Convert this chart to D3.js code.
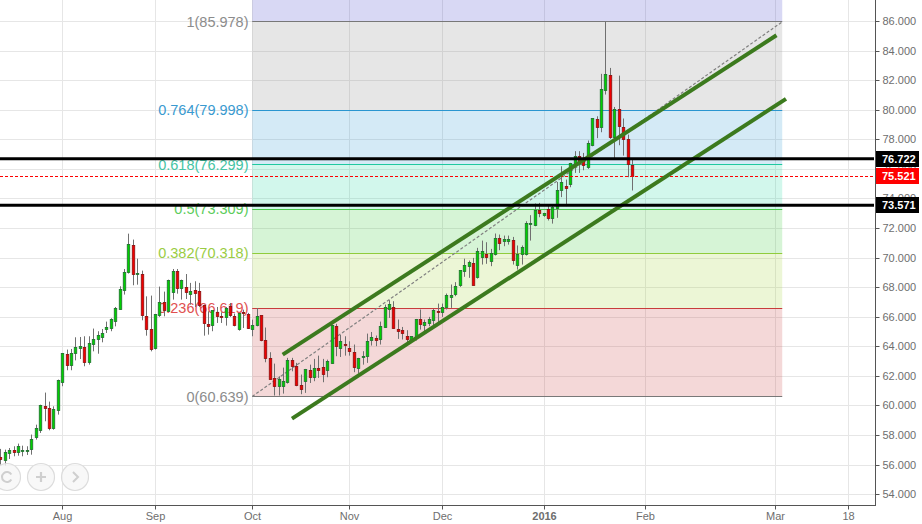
<!DOCTYPE html>
<html>
<head>
<meta charset="utf-8">
<script src="https://cdn.jsdelivr.net/npm/d3@7"></script>
<style>
    body { margin: 0; background: #fff; overflow: hidden; }
    text { font-family: "Liberation Sans", Arial, sans-serif; }
</style>
</head>
<body>
<div id="chart"></div>
<script>
// Daily prices, one entry per bar
const open = [56.48,56.32,56.77,56.97,56.86,56.86,56.86,57.04,57.81,58.35,59.95,59.81,58.44,59.70,61.60,63.47,62.75,63.49,63.90,63.94,62.95,64.14,64.44,64.64,65.18,65.25,65.72,66.53,67.75,68.99,70.84,68.90,68.92,66.08,65.20,63.83,66.06,66.96,66.40,67.62,69.06,67.91,67.98,67.55,67.80,67.71,66.76,65.50,65.38,66.35,66.02,65.93,66.69,66.02,65.16,66.29,66.17,65.18,65.47,66.11,64.42,63.20,61.85,61.31,61.31,61.60,63.06,62.66,61.37,61.64,62.39,61.87,62.50,62.59,62.34,62.88,65.34,63.90,64.13,63.85,63.58,62.50,63.29,63.29,64.37,64.53,64.44,65.32,66.49,66.67,65.16,65.07,64.67,64.40,64.64,65.82,65.39,65.52,65.73,66.38,66.29,66.63,67.35,67.53,68.09,69.11,69.38,69.63,68.66,69.99,70.21,69.72,70.19,71.30,71.14,71.14,71.16,69.45,70.19,70.19,72.22,72.15,73.19,72.83,73.28,72.65,73.33,74.52,74.84,74.93,76.28,76.84,76.50,76.10,77.59,79.35,78.78,81.29,82.32,78.15,80.02,78.80,77.99,76.26];
const high = [57.09,57.04,57.15,57.27,57.45,57.31,57.27,58.06,58.73,60.08,60.90,60.29,59.97,61.78,63.58,63.81,63.85,64.64,64.66,64.71,64.71,65.23,65.05,65.20,65.70,65.93,66.69,68.09,69.26,71.65,71.25,69.96,69.15,67.41,67.46,66.22,68.07,67.73,68.54,69.26,69.26,68.54,68.92,68.32,68.43,68.32,66.85,66.40,66.47,66.69,66.33,66.69,66.96,66.24,66.29,66.51,66.29,65.83,66.62,66.11,65.30,63.63,62.86,62.00,62.59,63.25,63.25,62.91,62.12,62.50,62.79,63.18,63.40,63.18,63.13,65.50,65.55,64.80,64.71,64.37,64.15,63.25,63.70,64.89,65.00,64.76,65.70,66.85,67.15,67.08,65.84,65.34,65.12,64.71,65.88,66.52,65.84,66.02,66.56,66.92,66.92,67.60,68.21,68.37,69.18,69.96,69.83,70.01,70.69,71.18,71.07,70.62,71.66,71.59,71.52,71.52,71.43,70.85,70.85,72.49,72.90,73.69,73.73,73.06,73.62,73.51,75.15,76.21,75.31,76.44,77.23,77.23,77.11,77.95,79.46,79.59,82.46,85.98,82.86,80.22,82.34,79.44,78.35,76.71];
const low = [56.03,55.96,56.41,56.59,56.63,56.59,56.68,56.70,57.72,58.17,58.96,58.35,58.39,59.41,61.33,62.41,62.41,63.08,63.17,62.68,62.79,63.69,63.53,64.30,64.93,65.05,65.38,66.51,67.53,68.95,68.16,68.20,65.79,64.75,63.69,63.81,66.02,66.06,66.38,67.19,67.59,67.19,67.23,66.85,66.69,66.69,64.75,64.82,65.05,65.61,65.61,65.43,66.02,65.38,65.09,65.27,65.20,64.71,65.38,64.37,62.95,61.78,60.70,60.70,60.83,61.51,62.34,61.33,60.79,60.88,61.55,61.67,61.89,61.60,61.94,62.84,63.36,63.31,63.40,63.40,62.28,62.19,62.79,62.91,64.08,64.04,64.15,65.28,65.95,65.21,64.53,64.49,64.22,64.26,64.42,65.16,64.85,65.39,65.43,65.66,66.02,66.52,66.63,67.42,68.05,68.73,68.66,68.16,68.61,69.56,69.61,69.45,70.17,70.53,70.80,70.91,69.56,69.22,69.56,70.17,71.18,72.15,72.76,72.79,72.54,72.33,72.72,74.12,73.51,74.79,75.76,75.76,75.94,76.03,77.56,78.11,78.51,81.06,78.06,76.75,77.63,76.93,75.47,74.57];
const close = [56.36,56.88,56.97,56.86,57.24,56.95,56.95,57.72,58.44,60.02,59.84,58.46,59.75,61.71,63.53,62.75,63.53,63.92,64.01,62.95,64.21,64.48,64.73,64.89,65.29,65.83,66.58,67.86,68.99,70.89,68.88,68.95,66.13,65.18,63.83,66.15,66.96,66.40,68.47,69.06,67.93,68.47,67.62,67.77,67.62,66.74,65.52,65.38,66.42,66.06,65.97,66.56,66.06,65.43,66.22,66.20,65.25,65.47,66.08,64.42,63.22,61.78,61.33,61.78,61.64,63.06,62.68,61.40,61.10,62.43,61.91,62.50,62.34,62.14,62.97,65.43,63.99,64.35,64.04,63.63,62.55,63.18,63.33,64.33,64.60,64.37,65.34,66.67,66.83,65.25,65.05,64.85,64.44,64.67,65.82,65.46,65.61,65.82,66.43,66.33,66.63,67.46,67.46,68.05,69.13,69.49,69.67,68.16,70.42,70.42,69.99,70.28,71.30,70.98,71.25,71.25,69.79,70.21,70.69,72.31,72.31,73.19,72.99,72.99,72.69,73.39,74.57,75.09,74.72,76.37,76.89,76.53,76.21,77.72,79.41,78.78,81.38,82.39,78.11,80.02,78.85,77.97,76.28,75.52];

// Fibonacci retracement levels
const fibRatios = ["1", "0.764", "0.618", "0.5", "0.382", "0.236", "0"];
const fibPrices = [85.978, 79.998, 76.299, 73.309, 70.318, 66.619, 60.639];
const fibStartBar = 56.9;
const fibEndBar = 176.9;

// Hand drawn lines: [bar, price] at each end
const upperChannel = [[63.8, 63.47], [175.6, 85.07]];
const lowerChannel = [[65.9, 59.14], [177.75, 80.77]];
const horizontalLines = [76.722, 73.571];
const lastPrice = 75.521;

// Axis ticks
const yTicks = d3.range(54, 87, 2);
const timeBars = [14, 35, 57, 79, 100, 123, 146, 175.3, 192];
const timeLabels = ["Aug", "Sep", "Oct", "Nov", "Dec", "2016", "Feb", "Mar", "18"];

// Colours for the fib levels, top to bottom
const fibLineColors = ["#787878", "#2a96d0", "#20c8a0", "#4cc84c", "#90cc3c", "#c83c3c", "#787878"];
const fibTextColors = ["#8c8c8c", "#3a9ad0", "#45c4a4", "#5ccc5c", "#9acc44", "#e05050", "#8c8c8c"];
const fibFills = ["#808080", "#2a96d0", "#20d8a0", "#30c830", "#a0d030", "#c83c3c"];
const fibTopFill = "#3c3cc8";

const width = 922;
const height = 524;
const plotRight = 875;
const plotBottom = 505;

const svg = d3.select("#chart")
    .append("svg")
    .attr("width", width)
    .attr("height", height)
    .style("display", "block");

// Bars are placed by index, price axis is linear
const xScale = d3.scaleLinear().domain([0, open.length - 1]).range([0.9, 632.5]);
const yScale = d3.scaleLinear().domain([54, 86]).range([494.6, 21.5]);

const crisp = v => Math.floor(v) + 0.5;

// Grid
const grid = svg.append("g").attr("stroke", "#e6e6e6").attr("stroke-width", 1);
grid.selectAll(".h")
    .data(yTicks)
    .enter().append("line")
    .attr("x1", 0).attr("x2", plotRight)
    .attr("y1", d => crisp(yScale(d))).attr("y2", d => crisp(yScale(d)));
grid.selectAll(".v")
    .data(timeBars)
    .enter().append("line")
    .attr("y1", 0).attr("y2", plotBottom)
    .attr("x1", d => crisp(xScale(d))).attr("x2", d => crisp(xScale(d)));

// Fib bands
const fibX1 = xScale(fibStartBar);
const fibX2 = xScale(fibEndBar);
svg.append("rect")
    .attr("x", fibX1).attr("width", fibX2 - fibX1)
    .attr("y", 0).attr("height", yScale(fibPrices[0]))
    .attr("fill", fibTopFill).attr("fill-opacity", 0.2);
svg.selectAll(".fib-band")
    .data(fibFills)
    .enter().append("rect")
    .attr("x", fibX1).attr("width", fibX2 - fibX1)
    .attr("y", (d, i) => yScale(fibPrices[i]))
    .attr("height", (d, i) => yScale(fibPrices[i + 1]) - yScale(fibPrices[i]))
    .attr("fill", d => d).attr("fill-opacity", 0.2);

// Fib lines and labels
svg.selectAll(".fib-line")
    .data(fibPrices)
    .enter().append("line")
    .attr("x1", fibX1).attr("x2", fibX2)
    .attr("y1", d => crisp(yScale(d))).attr("y2", d => crisp(yScale(d)))
    .attr("stroke", (d, i) => fibLineColors[i]);
svg.selectAll(".fib-label")
    .data(fibPrices)
    .enter().append("text")
    .attr("x", 248.5)
    .attr("y", d => yScale(d))
    .attr("dy", "0.35em")
    .attr("text-anchor", "end")
    .attr("font-size", "14.5px")
    .attr("fill", (d, i) => fibTextColors[i])
    .text((d, i) => fibRatios[i] + "(" + d.toFixed(3) + ")");

// Fib trend line
svg.append("line")
    .attr("x1", fibX1).attr("y1", yScale(fibPrices[6]))
    .attr("x2", fibX2).attr("y2", yScale(fibPrices[0]))
    .attr("stroke", "#808080")
    .attr("stroke-width", 1.2)
    .attr("stroke-dasharray", "3,2");

// Candles
const candles = svg.append("g")
    .selectAll("g")
    .data(open.map((d, i) => i))
    .enter().append("g");
candles.append("line")
    .attr("x1", i => crisp(xScale(i))).attr("x2", i => crisp(xScale(i)))
    .attr("y1", i => yScale(high[i])).attr("y2", i => yScale(low[i]))
    .attr("stroke", "#707070");
candles.append("rect")
    .attr("x", i => crisp(xScale(i)) - 1.25)
    .attr("width", 2.5)
    .attr("y", i => crisp(yScale(Math.max(open[i], close[i]))))
    .attr("height", i => Math.max(1, Math.round(Math.abs(yScale(open[i]) - yScale(close[i])))))
    .attr("fill", i => close[i] >= open[i] ? "#00d000" : "#f00000")
    .attr("stroke", i => close[i] >= open[i] ? "#1f6f2f" : "#8a1010")
    .attr("stroke-width", 0.8);

// Last price line
svg.append("line")
    .attr("x1", 0).attr("x2", plotRight)
    .attr("y1", crisp(yScale(lastPrice))).attr("y2", crisp(yScale(lastPrice)))
    .attr("stroke", "#ff0000")
    .attr("stroke-dasharray", "3,2");

// Channel
svg.selectAll(".channel")
    .data([upperChannel, lowerChannel])
    .enter().append("line")
    .attr("x1", d => xScale(d[0][0])).attr("y1", d => yScale(d[0][1]))
    .attr("x2", d => xScale(d[1][0])).attr("y2", d => yScale(d[1][1]))
    .attr("stroke", "#3c7a1e")
    .attr("stroke-width", 4);

// Black horizontal lines
svg.selectAll(".hline")
    .data(horizontalLines)
    .enter().append("line")
    .attr("x1", 0).attr("x2", plotRight - 1)
    .attr("y1", d => yScale(d)).attr("y2", d => yScale(d))
    .attr("stroke", "#000")
    .attr("stroke-width", 3);

// Price axis
const yAxis = d3.axisRight(yScale)
    .tickValues(yTicks)
    .tickSize(4)
    .tickPadding(3)
    .tickFormat(d3.format(".3f"));
const yAxisG = svg.append("g")
    .attr("transform", "translate(" + (plotRight + 0.5) + ",0)")
    .call(yAxis);
yAxisG.select(".domain").remove();
yAxisG.selectAll(".tick").attr("transform", d => "translate(0," + crisp(yScale(d)) + ")");
yAxisG.selectAll("line").attr("stroke", "#555");
yAxisG.selectAll("text")
    .attr("fill", "#6e6e6e")
    .attr("font-family", null)
    .attr("font-size", "11px");

svg.append("line")
    .attr("x1", plotRight + 0.5).attr("x2", plotRight + 0.5)
    .attr("y1", 0).attr("y2", plotBottom + 1)
    .attr("stroke", "#555");

// Time axis
const xAxis = d3.axisBottom(xScale)
    .tickValues(timeBars)
    .tickSize(4)
    .tickPadding(3)
    .tickFormat((d, i) => timeLabels[i]);
const xAxisG = svg.append("g")
    .attr("transform", "translate(0," + (plotBottom + 0.5) + ")")
    .call(xAxis);
xAxisG.select(".domain").remove();
xAxisG.selectAll(".tick").attr("transform", d => "translate(" + crisp(xScale(d)) + ",0)");
xAxisG.selectAll("line").attr("stroke", "#555");
xAxisG.selectAll("text")
    .attr("fill", "#6e6e6e")
    .attr("font-family", null)
    .attr("font-size", "11px")
    .attr("font-weight", (d, i) => timeLabels[i] === "2016" ? "bold" : "normal");

svg.append("line")
    .attr("x1", 0).attr("x2", plotRight)
    .attr("y1", plotBottom + 0.5).attr("y2", plotBottom + 0.5)
    .attr("stroke", "#555");

// Price tags on the axis
const tags = horizontalLines.map(d => ({ value: d, color: "#000" }))
    .concat([{ value: lastPrice, color: "#ff0000" }]);
svg.selectAll(".tag")
    .data(tags)
    .enter().append("rect")
    .attr("x", plotRight + 1).attr("width", 43)
    .attr("y", d => Math.round(yScale(d.value)) - 8).attr("height", 16)
    .attr("fill", d => d.color);
svg.selectAll(".tag-text")
    .data(tags)
    .enter().append("text")
    .attr("x", plotRight + 7)
    .attr("y", d => Math.round(yScale(d.value)))
    .attr("dy", "0.35em")
    .attr("font-size", "11px")
    .attr("font-weight", "bold")
    .attr("fill", "#fff")
    .text(d => d.value.toFixed(3));

// Navigation buttons at the bottom left
const buttons = svg.append("g").attr("fill", "none").attr("stroke", "#cfcfcf");
[7, 41, 75].forEach(cx => {
    buttons.append("circle")
        .attr("cx", cx).attr("cy", 477).attr("r", 13.5)
        .attr("fill", "#f6f6f6").attr("fill-opacity", 0.8)
        .attr("stroke", "#dcdcdc").attr("stroke-width", 1.2);
});
buttons.append("path")
    .attr("d", d3.arc()({ innerRadius: 5, outerRadius: 5, startAngle: 2.09, endAngle: 7.33 }))
    .attr("transform", "translate(7,477)")
    .attr("stroke-width", 2);
buttons.append("path")
    .attr("d", "M36,477H46M41,472V482")
    .attr("stroke-width", 2.2);
buttons.append("path")
    .attr("d", "M73,472L78,477L73,482")
    .attr("stroke-width", 2);
</script>
</body>
</html>
